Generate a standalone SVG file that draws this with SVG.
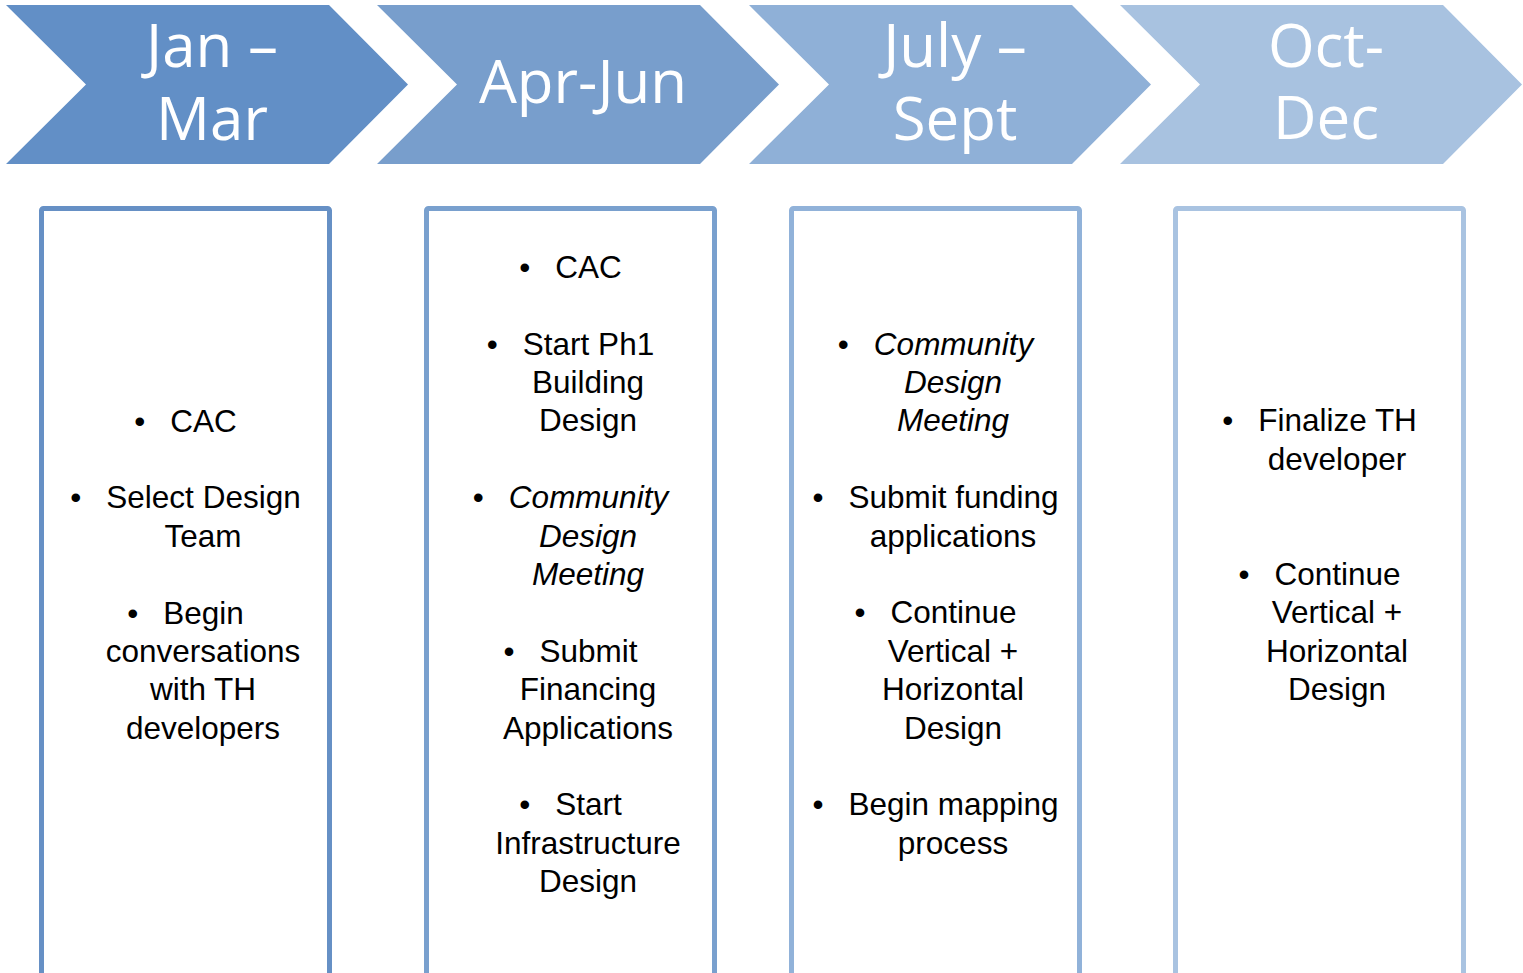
<svg xmlns="http://www.w3.org/2000/svg" width="1523" height="973" viewBox="0 0 1523 973">
<style>
.hd{font-family:"Open Sans","Liberation Sans",sans-serif;font-size:60px;fill:#ffffff;text-anchor:middle}
.tx{font-family:"Liberation Sans",Arial,sans-serif;font-size:31.5px;fill:#000000;text-anchor:middle}
.it{font-style:italic}
.box{fill:#ffffff;stroke-width:5}
</style>
<defs>
<polygon id="chev" points="0,5 323,5 402,84.5 323,164 0,164 80,84.5"/>
</defs>
<rect width="1523" height="973" fill="#ffffff"/>

<g id="q1">
<use href="#chev" x="6" fill="#628FC6"/>
<text class="hd"><tspan x="212" y="67">Jan –</tspan><tspan x="212" y="140">Mar</tspan></text>
<rect class="box" x="41.5" y="208.5" width="288" height="800" rx="2" stroke="#6690C5"/>
<text class="tx" x="185.5" y="431.6">•<tspan dx="25">CAC</tspan></text>
<text class="tx" x="185.5" y="508.4">•<tspan dx="25">Select Design</tspan></text>
<text class="tx" x="203" y="546.8">Team</text>
<text class="tx" x="185.5" y="623.6">•<tspan dx="25">Begin</tspan></text>
<text class="tx" x="203" y="662">conversations</text>
<text class="tx" x="203" y="700.4">with TH</text>
<text class="tx" x="203" y="738.8">developers</text>
</g>

<g id="q2">
<use href="#chev" x="377" fill="#789ECC"/>
<text class="hd" x="583" y="103">Apr-Jun</text>
<rect class="box" x="426.5" y="208.5" width="288" height="800" rx="2" stroke="#79A0CE"/>
<text class="tx" x="570.5" y="277.8">•<tspan dx="25">CAC</tspan></text>
<text class="tx" x="570.5" y="354.6">•<tspan dx="25">Start Ph1</tspan></text>
<text class="tx" x="588" y="393">Building</text>
<text class="tx" x="588" y="431.4">Design</text>
<text class="tx" x="570.5" y="508.2">•<tspan dx="25" class="it">Community</tspan></text>
<text class="tx it" x="588" y="546.6">Design</text>
<text class="tx it" x="588" y="585">Meeting</text>
<text class="tx" x="570.5" y="661.8">•<tspan dx="25">Submit</tspan></text>
<text class="tx" x="588" y="700.2">Financing</text>
<text class="tx" x="588" y="738.6">Applications</text>
<text class="tx" x="570.5" y="815.4">•<tspan dx="25">Start</tspan></text>
<text class="tx" x="588" y="853.8">Infrastructure</text>
<text class="tx" x="588" y="892.2">Design</text>
</g>

<g id="q3">
<use href="#chev" x="749" fill="#8FB0D7"/>
<text class="hd"><tspan x="955" y="67">July –</tspan><tspan x="955" y="140">Sept</tspan></text>
<rect class="box" x="791.5" y="208.5" width="288" height="800" rx="2" stroke="#91B2D9"/>
<text class="tx" x="935.5" y="354.6">•<tspan dx="25" class="it">Community</tspan></text>
<text class="tx it" x="953" y="393">Design</text>
<text class="tx it" x="953" y="431.4">Meeting</text>
<text class="tx" x="935.5" y="508.2">•<tspan dx="25">Submit funding</tspan></text>
<text class="tx" x="953" y="546.6">applications</text>
<text class="tx" x="935.5" y="623.4">•<tspan dx="25">Continue</tspan></text>
<text class="tx" x="953" y="661.8">Vertical +</text>
<text class="tx" x="953" y="700.2">Horizontal</text>
<text class="tx" x="953" y="738.6">Design</text>
<text class="tx" x="935.5" y="815.4">•<tspan dx="25">Begin mapping</tspan></text>
<text class="tx" x="953" y="853.8">process</text>
</g>

<g id="q4">
<use href="#chev" x="1120" fill="#A8C2E0"/>
<text class="hd"><tspan x="1326" y="67">Oct-</tspan><tspan x="1326" y="139">Dec</tspan></text>
<rect class="box" x="1175.5" y="208.5" width="288" height="800" rx="2" stroke="#A9C3E1"/>
<text class="tx" x="1319.5" y="431.4">•<tspan dx="25">Finalize TH</tspan></text>
<text class="tx" x="1337" y="469.8">developer</text>
<text class="tx" x="1319.5" y="585">•<tspan dx="25">Continue</tspan></text>
<text class="tx" x="1337" y="623.4">Vertical +</text>
<text class="tx" x="1337" y="661.8">Horizontal</text>
<text class="tx" x="1337" y="700.2">Design</text>
</g>
</svg>
